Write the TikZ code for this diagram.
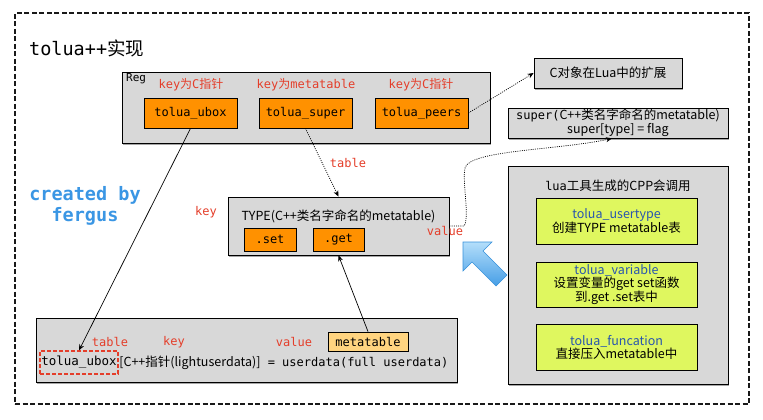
\documentclass[tikz,border=0pt]{standalone}
\usepackage{fontspec}
\newfontfamily\cjk{Noto Sans CJK SC}
\newfontfamily\mono{DejaVu Sans Mono}
\usetikzlibrary{shadows,arrows.meta}
\definecolor{boxgray}{RGB}{216,216,216}
\definecolor{orng}{RGB}{255,145,0}
\definecolor{lorng}{RGB}{255,212,128}
\definecolor{lgreen}{RGB}{223,247,95}
\definecolor{redlab}{RGB}{228,62,42}
\definecolor{bluetxt}{RGB}{40,85,175}
\definecolor{fergusblue}{RGB}{58,150,228}
\definecolor{arrowblue}{RGB}{55,145,218}
\definecolor{arrowlight}{RGB}{180,222,250}
\definecolor{arrowdark}{RGB}{70,158,230}
\tikzset{
  shadowed/.style={drop shadow={shadow xshift=1.2pt, shadow yshift=-1.5pt, opacity=0.35, fill=black}},
  graybox/.style={draw=black, line width=0.8pt, fill=boxgray, inner sep=0pt, shadowed},
  orangebox/.style={draw=black, line width=0.8pt, fill=orng, inner sep=0pt, font={\mono\fontsize{12}{14}\selectfont}},
  greenbox/.style={draw=black, line width=0.8pt, fill=lgreen, inner sep=0pt, align=center, minimum width=161pt, font={\cjk\fontsize{12.5}{13}\selectfont}},
  redlabel/.style={text=redlab, inner sep=0pt, font={\mono\fontsize{12}{14}\selectfont}},
  txt/.style={inner sep=0pt, font={\cjk\fontsize{12.5}{13.5}\selectfont}, align=center},
  conn/.style={line width=0.7pt, -{Stealth[length=6pt,width=5pt]}},
  dotconn/.style={line width=0.7pt, dash pattern=on 1pt off 1.2pt, -{Stealth[length=6pt,width=5pt]}},
  outerframe/.style={draw=black!90, line width=1.8pt, dash pattern=on 5pt off 2.5pt, inner sep=0pt}
}
\begin{document}
\begin{tikzpicture}[x=1pt,y=-1pt]
\useasboundingbox (0,0) rectangle (763,420);
% outer frame
\node[outerframe, minimum width=734pt, minimum height=391pt] (frame) at (382,208.5) {};
\node[anchor=west, inner sep=0pt, font={\mono\fontsize{18.5}{20}\selectfont}] (title) at (29,48) {tolua++{\cjk 实现}};

% Reg box
\node[graybox, minimum width=368pt, minimum height=71pt] (reg) at (306,107.5) {};
\node[anchor=north west, inner sep=0pt, font={\mono\fontsize{11}{12}\selectfont}] (reglab) at (126,73) {Reg};
\node[redlabel] (k1) at (191,85) {key{\cjk 为}C{\cjk 指针}};
\node[redlabel] (k2) at (306,85) {key{\cjk 为}metatable};
\node[redlabel] (k3) at (421,85) {key{\cjk 为}C{\cjk 指针}};
\node[orangebox, minimum width=93pt, minimum height=30pt] (ubox) at (190.5,113) {tolua\_ubox};
\node[orangebox, minimum width=93pt, minimum height=30pt] (super) at (305.5,113) {tolua\_super};
\node[orangebox, minimum width=93pt, minimum height=30pt] (peers) at (421.5,113) {tolua\_peers};

% right top boxes
\node[graybox, minimum width=148pt, minimum height=30pt, font={\cjk\fontsize{12.5}{14}\selectfont}] (ext) at (608,73) {C对象在Lua中的扩展};
\node[graybox, minimum width=220pt, minimum height=30pt, align=center, font={\cjk\fontsize{12.5}{12.5}\selectfont}] (sup) at (618,123) {{\mono\fontsize{12}{12.5}\selectfont super(}C++类名字命名的metatable)\\super[type] = flag};

% created by
\node[inner sep=0pt, align=center, text=fergusblue, font={\mono\bfseries\fontsize{18.5}{21.5}\selectfont}] (fergus) at (85,206) {created by\\fergus};

% TYPE box
\node[graybox, minimum width=221pt, minimum height=58pt] (TYPE) at (338.5,226) {};
\node[txt] (typetxt) at (338.5,216) {TYPE(C++类名字命名的metatable)};
\node[orangebox, minimum width=52pt, minimum height=23pt] (set) at (270,239.5) {.set};
\node[orangebox, minimum width=51pt, minimum height=23pt] (get) at (338.5,239.5) {.get};
\node[redlabel] (keylab) at (206,212) {key};
\node[redlabel] (tablab) at (348,163) {table};

% blue block arrow
\draw[draw=arrowblue, line width=0.6pt, top color=arrowlight, bottom color=arrowdark]
  (463,242) -- (492,242) -- (483,251) -- (507,275) -- (496,286) -- (472,262) -- (463,271) -- cycle;

% CPP box
\node[graybox, minimum width=220pt, minimum height=218pt] (cpp) at (618,275) {};
\node[txt] (cpptitle) at (618,186) {{\mono\fontsize{12}{13.5}\selectfont lua}工具生成的CPP会调用};
\node[greenbox, minimum height=46pt] (g1) at (616.5,221) {\textcolor{bluetxt}{tolua\_usertype}\\创建TYPE metatable表};
\node[greenbox, minimum height=45pt] (g2) at (616.5,284.5) {\textcolor{bluetxt}{tolua\_variable}\\设置变量的get set函数\\到.get .set表中};
\node[greenbox, minimum height=46pt] (g3) at (616.5,347) {\textcolor{bluetxt}{tolua\_funcation}\\直接压入metatable中};

% bottom box
\node[graybox, minimum width=421pt, minimum height=64pt] (bottom) at (246.5,350) {};
\node[redlabel] (btable) at (110,342) {table};
\node[redlabel] (bkey) at (174,342) {key};
\node[redlabel] (bvalue) at (294,342) {value};
\node[draw=black, line width=0.8pt, fill=lorng, inner sep=0pt, minimum width=80pt, minimum height=19pt, font={\mono\fontsize{12}{14}\selectfont}] (meta) at (368,341.5) {metatable};
\node[draw=redlab, dash pattern=on 4pt off 2pt, line width=1.3pt, inner sep=0pt, minimum width=78pt, minimum height=23pt, font={\mono\fontsize{12.5}{14}\selectfont}] (ubcode) at (79,362.5) {tolua\_ubox};
\node[anchor=west, inner sep=0pt, xshift=0.5pt] (rest) at (ubcode.east) {{\cjk\fontsize{12.5}{14}\selectfont [C++指针(lightuserdata)]}{\mono\fontsize{12}{14}\selectfont\ = userdata(full userdata)}};

% value label (over TYPE edge)
\node[redlabel] (valuelab) at (445,231) {value};

% connectors
\draw[conn] (ubox.south) -- (ubcode.north);
\draw[conn] (meta.north) -- (TYPE.south);
\draw[dotconn] (super.south) -- (TYPE.north);
\draw[dotconn] (peers.east) -- (ext.west);
\draw[dotconn] (TYPE.east) -- (464,226) .. controls (470,218) and (462,182) .. (465,168)
  .. controls (469,150) and (560,150) .. ([xshift=-6pt]sup.south);
\end{tikzpicture}
\end{document}
